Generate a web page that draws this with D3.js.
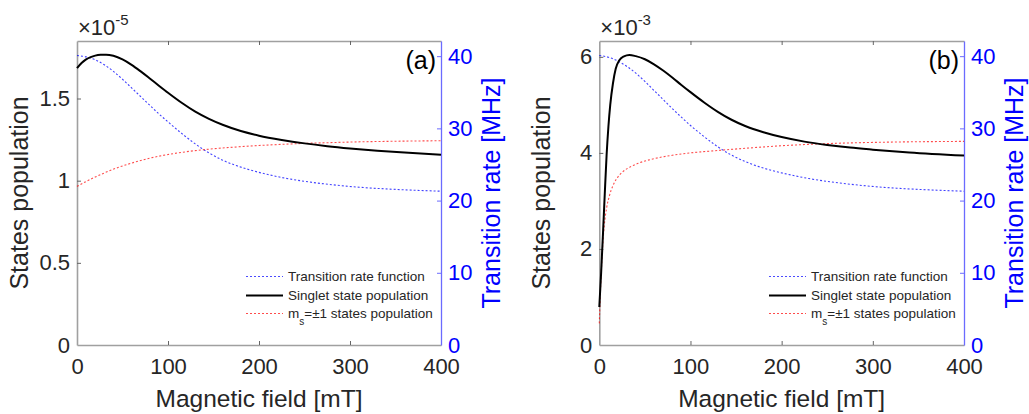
<!DOCTYPE html>
<html><head><meta charset="utf-8">
<script src="https://cdn.jsdelivr.net/npm/d3@7"></script>
<style>
html,body{margin:0;padding:0;background:#fff;}
svg{display:block;font-family:"Liberation Sans",Arial,Helvetica,sans-serif;}
</style></head><body>
<svg id="chart" width="1029" height="414"></svg>
<script>
// ---------- data ----------
const xTicks = [0, 100, 200, 300, 400];
const rateTicks = [0, 10, 20, 30, 40];
const popTicksA = [0, 0.5, 1, 1.5];
const popTicksB = [0, 2, 4, 6];
const panelLabels = ["(a)", "(b)"];
const exponentLabels = ["-5", "-3"];
const xLabel = "Magnetic field [mT]";
const yLabelLeft = "States population";
const yLabelRight = "Transition rate [MHz]";
const legendLabels = ["Transition rate function", "Singlet state population", "states population"];

// panel (a)  (population in units of 1e-5, rate in MHz)
const singletFieldA = [0, 5, 10, 15, 20, 26, 32, 40, 50, 60, 70, 80, 90, 100, 115, 130, 145, 160, 180, 200, 225, 250, 275, 300, 330, 360, 400];
const singletA = [1.685, 1.716, 1.738, 1.752, 1.761, 1.766, 1.767, 1.760, 1.738, 1.705, 1.665, 1.622, 1.578, 1.535, 1.474, 1.420, 1.376, 1.340, 1.302, 1.274, 1.248, 1.227, 1.210, 1.196, 1.182, 1.171, 1.158];
const tripletFieldA = [0, 10, 20, 30, 45, 60, 80, 100, 120, 140, 160, 180, 200, 225, 250, 275, 300, 350, 400];
const tripletA = [0.965, 0.995, 1.022, 1.047, 1.080, 1.107, 1.137, 1.159, 1.176, 1.189, 1.199, 1.207, 1.214, 1.221, 1.227, 1.231, 1.235, 1.240, 1.243];
const rateFieldA = [0, 10, 20, 30, 40, 50, 60, 70, 80, 90, 100, 115, 130, 145, 160, 175, 190, 210, 230, 255, 280, 310, 350, 400];
const rateA = [40.1, 39.9, 39.5, 38.8, 37.9, 36.8, 35.6, 34.4, 33.2, 32.0, 30.9, 29.3, 27.85, 26.6, 25.6, 24.85, 24.25, 23.6, 23.08, 22.58, 22.2, 21.85, 21.55, 21.3];

// panel (b)  (population in units of 1e-3, rate in MHz)
const singletFieldB = [0, 2, 4, 6, 8, 10, 12, 15, 18, 22, 27, 33, 40, 50, 60, 70, 80, 90, 100, 115, 130, 145, 160, 180, 200, 225, 250, 275, 300, 340, 400];
const singletB = [0.79, 1.5, 2.3, 3.15, 3.95, 4.55, 5.0, 5.45, 5.75, 5.93, 6.01, 6.04, 6.015, 5.95, 5.845, 5.715, 5.57, 5.415, 5.265, 5.05, 4.855, 4.69, 4.56, 4.43, 4.33, 4.235, 4.165, 4.11, 4.068, 4.01, 3.945];
const tripletFieldB = [0, 1, 2, 3.5, 5.5, 8, 11, 15, 20, 26, 35, 45, 60, 80, 100, 130, 170, 210, 260, 320, 400];
const tripletB = [0.45, 1.0, 1.45, 2.0, 2.5, 2.85, 3.1, 3.32, 3.49, 3.61, 3.72, 3.80, 3.88, 3.95, 4.00, 4.05, 4.11, 4.16, 4.20, 4.225, 4.24];
const rateFieldB = [0, 10, 20, 30, 40, 50, 60, 70, 80, 90, 100, 115, 130, 145, 160, 175, 190, 210, 230, 255, 280, 310, 350, 400];
const rateB = [40.1, 39.85, 39.35, 38.6, 37.65, 36.5, 35.25, 34.0, 32.75, 31.55, 30.4, 28.85, 27.45, 26.3, 25.4, 24.7, 24.15, 23.55, 23.05, 22.57, 22.2, 21.85, 21.55, 21.3];

// ---------- drawing ----------
const svg = d3.select("#chart");
const TXT = "#262626";
const BLUE = "#0000ff";
const RED = "#ff0000";

function drawPanel(o) {
  const g = svg.append("g");
  const x = d3.scaleLinear().domain([0, 400]).range([o.left, o.right]);
  const yL = d3.scaleLinear().domain([0, o.popMax]).range([o.bottom, o.top]);
  const yR = d3.scaleLinear().domain([0, o.rateMax]).range([o.bottom, o.top]);

  // axes
  const gx = g.append("g").attr("transform", `translate(0,${o.bottom})`)
    .call(d3.axisBottom(x).tickValues(xTicks).tickSize(-4).tickSizeOuter(0).tickPadding(13).tickFormat(d3.format("d")));
  const gt = g.append("g").attr("transform", `translate(0,${o.top})`)
    .call(d3.axisTop(x).tickValues(xTicks).tickSize(-4).tickSizeOuter(0).tickFormat(""));
  const gl = g.append("g").attr("transform", `translate(${o.left},0)`)
    .call(d3.axisLeft(yL).tickValues(o.popTicks).tickSize(-4).tickSizeOuter(0).tickPadding(7).tickFormat(d => String(d)));
  const gr = g.append("g").attr("transform", `translate(${o.right},0)`)
    .call(d3.axisRight(yR).tickValues(rateTicks).tickSize(-4).tickSizeOuter(0).tickPadding(7).tickFormat(d => String(d)));

  g.selectAll("g").attr("font-family", null).attr("font-size", null);
  [gx, gt, gl].forEach(a => {
    a.select(".domain").attr("stroke", "#a0a0a0").attr("stroke-width", 1.6);
    a.selectAll(".tick line").attr("stroke", "#666").attr("stroke-width", 1);
    a.selectAll(".tick text").attr("fill", TXT).attr("font-size", 22);
  });
  gx.selectAll(".tick line").filter(d => d === 0 || d === 400).remove();
  gt.selectAll(".tick line").filter(d => d === 0 || d === 400).remove();
  gl.selectAll(".tick line").filter(d => d === 0).remove();
  gr.select(".domain").attr("stroke", "#6b6bff").attr("stroke-width", 1.3);
  gr.selectAll(".tick line").attr("stroke", "#6b6bff").attr("stroke-width", 1);
  gr.selectAll(".tick line").filter(d => d === 0).remove();
  gr.selectAll(".tick text").attr("fill", BLUE).attr("font-size", 22);

  // curves
  const lineL = (xs, ys) => d3.line().x((d, i) => x(xs[i])).y(d => yL(d)).curve(d3.curveMonotoneX)(ys);
  const lineR = (xs, ys) => d3.line().x((d, i) => x(xs[i])).y(d => yR(d)).curve(d3.curveMonotoneX)(ys);

  g.append("path").attr("d", lineR(o.rateField, o.rate))
    .attr("fill", "none").attr("stroke", BLUE).attr("stroke-width", 1.1).attr("stroke-dasharray", "2,2").attr("opacity", 0.75);
  g.append("path").attr("d", lineL(o.tripletField, o.triplet))
    .attr("fill", "none").attr("stroke", RED).attr("stroke-width", 1.1).attr("stroke-dasharray", "2,2").attr("opacity", 0.7);
  g.append("path").attr("d", lineL(o.singletField, o.singlet))
    .attr("fill", "none").attr("stroke", "#000").attr("stroke-width", 2);

  // exponent
  const ex = g.append("text").attr("x", o.left + 1).attr("y", 35).attr("fill", TXT).attr("font-size", 22);
  ex.append("tspan").text("×10");
  ex.append("tspan").attr("font-size", 15).attr("dy", -10).text(o.exponent);

  // panel label
  g.append("text").attr("x", o.right - 5).attr("y", 69).attr("text-anchor", "end")
    .attr("fill", "#000").attr("font-size", 25).text(o.label);

  // axis labels
  g.append("text").attr("x", (o.left + o.right) / 2).attr("y", 407).attr("text-anchor", "middle")
    .attr("fill", TXT).attr("font-size", 24.5).text(xLabel);
  g.append("text").attr("transform", `translate(${o.left - 49},${(o.top + o.bottom) / 2}) rotate(-90)`)
    .attr("text-anchor", "middle").attr("fill", TXT).attr("font-size", 25).text(yLabelLeft);
  g.append("text").attr("transform", `translate(${o.right + 59},${(o.top + o.bottom) / 2}) rotate(-90)`)
    .attr("text-anchor", "middle").attr("fill", BLUE).attr("font-size", 25).text(yLabelRight);

  // legend
  const lx0 = o.right - 195, lx1 = o.right - 158, tx = o.right - 153;
  const rows = [276.5, 295.5, 313.5];
  const styles = [
    {stroke: BLUE, w: 1.2, dash: "2,2", op: 0.7},
    {stroke: "#000", w: 2, dash: null, op: 1},
    {stroke: RED, w: 1.2, dash: "2,2", op: 0.7}
  ];
  rows.forEach((ry, i) => {
    const s = styles[i];
    const ln = g.append("line").attr("x1", lx0).attr("x2", lx1).attr("y1", ry).attr("y2", ry)
      .attr("stroke", s.stroke).attr("stroke-width", s.w).attr("opacity", s.op);
    if (s.dash) ln.attr("stroke-dasharray", s.dash);
    const t = g.append("text").attr("x", tx).attr("y", ry + 4.5).attr("fill", TXT).attr("font-size", 13.5);
    if (i === 2) {
      t.append("tspan").text("m");
      t.append("tspan").attr("font-size", 10).attr("dy", 7).text("s");
      t.append("tspan").attr("dy", -7).text("=±1 " + legendLabels[2]);
    } else {
      t.text(legendLabels[i]);
    }
  });
}

drawPanel({
  left: 77, right: 441, top: 41, bottom: 345,
  popMax: 1.85, rateMax: 42.1, popTicks: popTicksA,
  singletField: singletFieldA, singlet: singletA,
  tripletField: tripletFieldA, triplet: tripletA,
  rateField: rateFieldA, rate: rateA,
  exponent: exponentLabels[0], label: panelLabels[0]
});
drawPanel({
  left: 599.3, right: 964, top: 41, bottom: 345,
  popMax: 6.33, rateMax: 42.1, popTicks: popTicksB,
  singletField: singletFieldB, singlet: singletB,
  tripletField: tripletFieldB, triplet: tripletB,
  rateField: rateFieldB, rate: rateB,
  exponent: exponentLabels[1], label: panelLabels[1]
});
</script>
</body></html>
